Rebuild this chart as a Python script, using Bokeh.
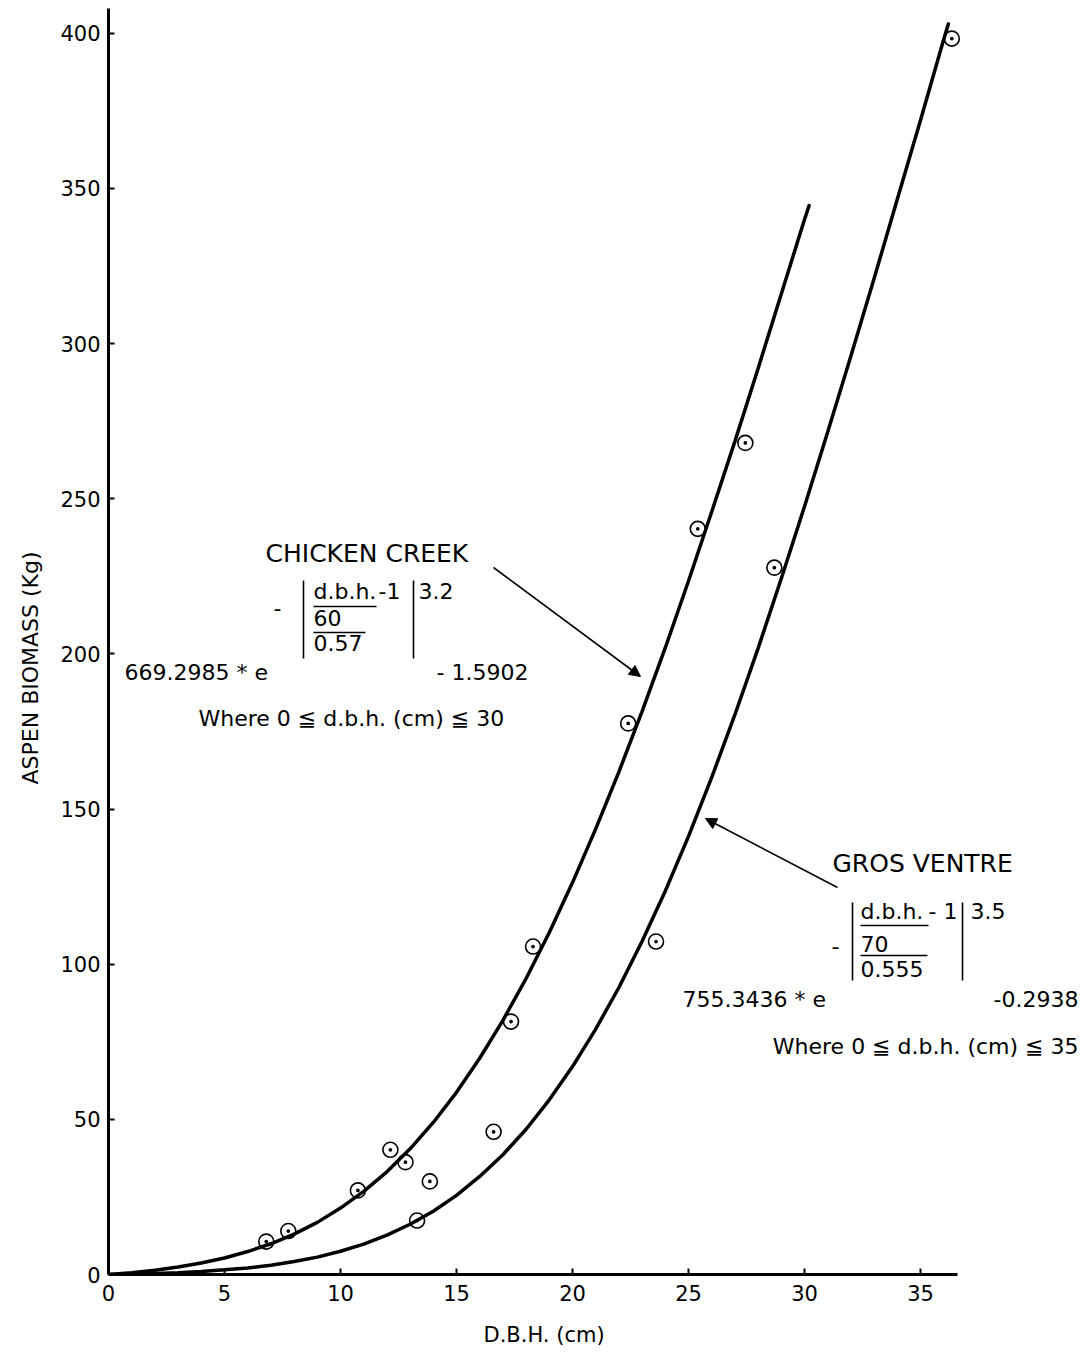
import math
from bokeh.plotting import figure
from bokeh.models import Label, Arrow, NormalHead, FixedTicker, Range1d, Title
from bokeh.embed import file_html
from bokeh.resources import INLINE

# ---- data ----
dbh_cc = [0, 1, 2, 3, 4, 5, 6, 7, 8, 9, 10, 11, 12, 13, 14, 15, 16, 17, 18, 19,
          20, 21, 22, 23, 24, 25, 26, 27, 28, 29, 30, 30.2]
bio_cc = [0.0, 0.6, 1.4, 2.4, 3.7, 5.3, 7.4, 9.9, 13.0, 16.8, 21.4, 26.8, 33.1,
          40.5, 49.0, 58.7, 69.7, 81.9, 95.4, 110.2, 126.3, 143.6, 162.0, 181.5,
          202.0, 223.5, 245.8, 268.5, 292.0, 316.0, 340.0, 344.5]

dbh_gv = [0, 1, 2, 3, 4, 5, 6, 7, 8, 9, 10, 11, 12, 13, 14, 15, 16, 17, 18, 19,
          20, 21, 22, 23, 24, 25, 26, 27, 28, 29, 30, 31, 32, 33, 34, 35, 36, 36.2]
bio_gv = [0.0, 0.1, 0.3, 0.6, 1.0, 1.5, 2.1, 3.0, 4.2, 5.6, 7.5, 9.8, 12.7, 16.2,
          20.4, 25.5, 31.6, 38.6, 46.8, 56.3, 67.0, 79.1, 92.5, 107.4, 123.6,
          141.2, 160.2, 180.4, 201.8, 224.3, 247.5, 271.5, 296.0, 321.0, 346.5,
          372.0, 398.0, 403.0]

obs_dbh = [6.8, 7.75, 10.75, 12.15, 12.8, 13.3, 13.85, 16.6, 17.35, 18.3, 22.4,
           23.6, 25.4, 27.45, 28.7, 36.35]
obs_bio = [10.6, 14.0, 27.1, 40.2, 36.2, 17.4, 30.0, 46.0, 81.5, 105.7, 177.6,
           107.3, 240.3, 268.0, 227.8, 398.3]

x_ticks = [0, 5, 10, 15, 20, 25, 30, 35]
y_ticks = [0, 50, 100, 150, 200, 250, 300, 350, 400]
x_title = "D.B.H. (cm)"
y_title = "ASPEN BIOMASS (Kg)"

FONT = "DejaVu Sans"
W, H = 1080, 1364
BL, BB, BT = 108, 90, 8          # borders: left, bottom, top
X_END, Y_END = (W - BL) / 23.2, 408.0

p = figure(width=W, height=H, x_range=Range1d(0, X_END), y_range=Range1d(0, Y_END),
           output_backend="svg", toolbar_location=None,
           min_border_left=BL, min_border_right=0, min_border_top=BT,
           min_border_bottom=BB)
p.outline_line_color = None
p.xgrid.grid_line_color = None
p.ygrid.grid_line_color = None
p.background_fill_color = "white"
p.border_fill_color = "white"

for ax in (p.xaxis[0], p.yaxis[0]):
    ax.axis_line_width = 3
    ax.axis_line_color = "black"
    ax.major_tick_in = 6
    ax.major_tick_out = 0
    ax.major_tick_line_width = 2
    ax.minor_tick_line_color = None
    ax.major_label_text_font = FONT
    ax.major_label_text_font_size = "21px"
    ax.major_label_text_color = "black"

p.xaxis.ticker = FixedTicker(ticks=x_ticks)
p.yaxis.ticker = FixedTicker(ticks=y_ticks)
p.xaxis.bounds = (0, 36.6)
p.yaxis.bounds = (0, Y_END)
p.xaxis.major_label_standoff = 10
p.yaxis.major_label_standoff = 8

# axis titles as side titles (positioned to match the original)
p.add_layout(Title(text=x_title, align="left", offset=375, standoff=34,
                   text_font=FONT, text_font_size="21px",
                   text_font_style="normal", text_color="black"), "below")
p.add_layout(Title(text=y_title, align="left", offset=490, standoff=29,
                   text_font=FONT, text_font_size="22px",
                   text_font_style="normal", text_color="black"), "left")

# curves
p.line(dbh_cc, bio_cc, line_color="black", line_width=3.5, line_cap="round")
p.line(dbh_gv, bio_gv, line_color="black", line_width=3.5, line_cap="round")

# observations
p.scatter(obs_dbh, obs_bio, marker="circle_dot", size=15, fill_color=None,
          line_color="black", line_width=1.6)


# ---- annotation helpers (page pixel -> data) ----
def X(px):
    return (px - BL) / ((W - BL) / X_END)


def Y(py):
    return (H - BB - py) / ((H - BB - BT) / Y_END)


def txt(s, px, py, align="left", size=22):
    # py is the wanted baseline; shift to compensate the renderer's baseline offset
    p.add_layout(Label(x=X(px), y=Y(py - 0.42 * size), text=s, text_font=FONT,
                       text_font_size=f"{size}px", text_align=align,
                       text_baseline="alphabetic", text_color="black"))


# Chicken Creek equation
txt("CHICKEN CREEK", 265, 563, size=25)
txt("-", 273, 617)
txt("d.b.h.", 313, 600)
txt("-1", 378, 600)
txt("3.2", 418, 600)
txt("60", 313, 627)
txt("0.57", 313, 652)
txt("669.2985 * e", 124, 681)
txt("- 1.5902", 436, 681)
txt("Where 0 \u2266 d.b.h. (cm) \u2266 30", 198, 727)

# Gros Ventre equation
txt("GROS VENTRE", 832, 873, size=25)
txt("-", 831, 955)
txt("d.b.h.", 860, 920)
txt("- 1", 928, 920)
txt("3.5", 970, 920)
txt("70", 860, 953)
txt("0.555", 860, 978)
txt("755.3436 * e", 682, 1008)
txt("-0.2938", 1078, 1008, align="right")
txt("Where 0 \u2266 d.b.h. (cm) \u2266 35", 1078, 1055, align="right")

# bars and fraction lines
seg = [
    (303, 580, 303, 658), (413, 580, 413, 658),
    (313, 606, 376, 606), (313, 632, 365, 632),
    (852, 902, 852, 980), (962, 902, 962, 980),
    (860, 925, 928, 925), (860, 955, 927, 955),
]
p.segment(x0=[X(s[0]) for s in seg], y0=[Y(s[1]) for s in seg],
          x1=[X(s[2]) for s in seg], y1=[Y(s[3]) for s in seg],
          line_color="black", line_width=1.6)

# arrows
p.add_layout(Arrow(end=NormalHead(size=11, fill_color="black", line_color="black"),
                   x_start=X(493), y_start=Y(567), x_end=X(640), y_end=Y(676),
                   line_width=1.6, line_color="black"))
p.add_layout(Arrow(end=NormalHead(size=11, fill_color="black", line_color="black"),
                   x_start=X(837), y_start=Y(887), x_end=X(705), y_end=Y(818),
                   line_width=1.6, line_color="black"))

open("out.html", "w").write(file_html(p, INLINE))
